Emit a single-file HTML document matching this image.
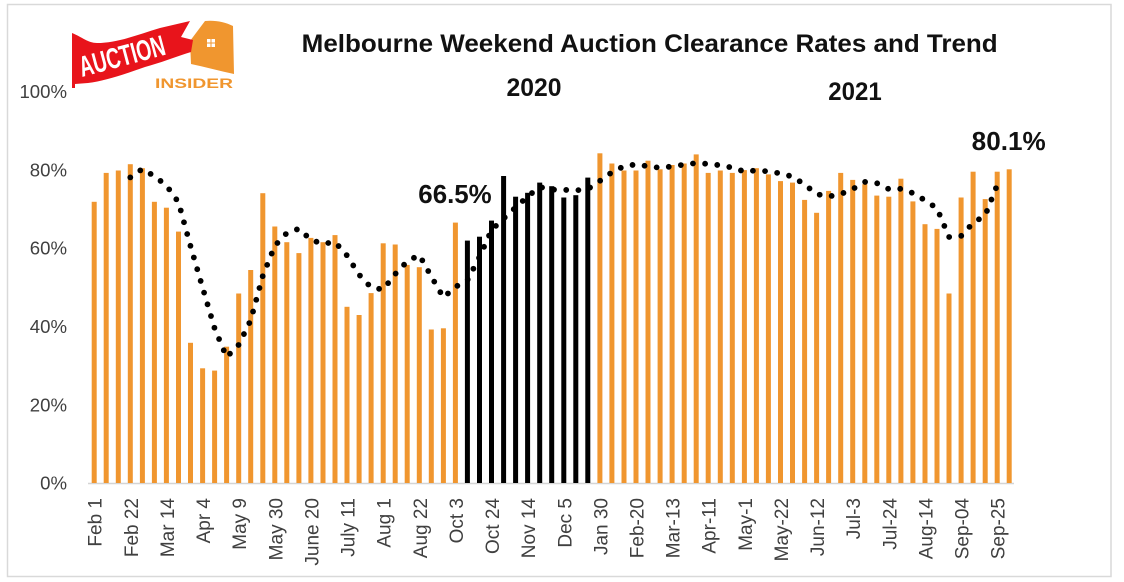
<!DOCTYPE html>
<html>
<head>
<meta charset="utf-8">
<style>
  html, body { margin: 0; padding: 0; background: #ffffff; }
  body { width: 1124px; height: 582px; overflow: hidden; }
  svg { display: block; }
  .yl { font-family: "Liberation Sans", Arial, sans-serif; font-size: 18.6px; fill: #404040; }
  .xl { font-family: "Liberation Sans", Arial, sans-serif; font-size: 19px; fill: #404040; }
  .b  { font-family: "Liberation Sans", Arial, sans-serif; font-weight: bold; fill: #111; }
</style>
</head>
<body>
<svg width="1124" height="582" viewBox="0 0 1124 582" xmlns="http://www.w3.org/2000/svg">
  <rect x="0" y="0" width="1124" height="582" fill="#ffffff"/>
  <!-- chart border -->
  <rect x="7.5" y="4.5" width="1103.5" height="572" fill="none" stroke="#d9d9d9" stroke-width="1.5"/>

  <!-- logo -->
  <path d="M190,41 L205,21 C215,20 225,22 233,26 L234,74 C220,71 205,67 191,64 Z" fill="#F0962F"/>
  <rect x="207" y="39" width="3.5" height="3.5" fill="#fff"/>
  <rect x="211.5" y="39" width="3.5" height="3.5" fill="#fff"/>
  <rect x="207" y="43.5" width="3.5" height="3.5" fill="#fff"/>
  <rect x="211.5" y="43.5" width="3.5" height="3.5" fill="#fff"/>
  <path d="M72,33 C82,37 88,43 97,43 C117,43 137,35 160,28 L190,21 L181,37 L193,40 L191,52 C175,57 160,63 145,67 C125,74 105,81 88,83 L75,84 L75,88 L72,88 Z" fill="#E8141B"/>
  <text x="82" y="77" transform="rotate(-15 82 77)" textLength="88" lengthAdjust="spacingAndGlyphs" style="font-family:'Liberation Sans',Arial,sans-serif;font-weight:bold;font-size:29px;fill:#ffffff;">AUCTION</text>
  <text x="155" y="88" textLength="78" lengthAdjust="spacingAndGlyphs" style="font-family:'Liberation Sans',Arial,sans-serif;font-weight:bold;font-size:13.5px;fill:#F0962F;">INSIDER</text>

  <!-- titles -->
  <text class="b" x="301.7" y="52" font-size="25" textLength="696" lengthAdjust="spacingAndGlyphs">Melbourne Weekend Auction Clearance Rates and Trend</text>
  <text class="b" x="506.5" y="96" font-size="25" textLength="55" lengthAdjust="spacingAndGlyphs">2020</text>
  <text class="b" x="828.3" y="100" font-size="25" textLength="53.4" lengthAdjust="spacingAndGlyphs">2021</text>
  <text class="b" x="418.3" y="203" font-size="26" textLength="73.4" lengthAdjust="spacingAndGlyphs">66.5%</text>
  <text class="b" x="971.7" y="150" font-size="26" textLength="74" lengthAdjust="spacingAndGlyphs">80.1%</text>

  <!-- y axis labels -->
  <g text-anchor="end">
    <text class="yl" x="67" y="98.1">100%</text>
    <text class="yl" x="67" y="176.4">80%</text>
    <text class="yl" x="67" y="254.7">60%</text>
    <text class="yl" x="67" y="333.1">40%</text>
    <text class="yl" x="67" y="411.4">20%</text>
    <text class="yl" x="67" y="489.7">0%</text>
  </g>

  <!-- axis line -->
  <line x1="88" y1="483.5" x2="1014" y2="483.5" stroke="#d4d4d4" stroke-width="1.5"/>

  <!-- bars -->
  <g fill="#F0962F">
    <rect x="91.7" y="201.8" width="5" height="281.2"/>
    <rect x="103.7" y="172.9" width="5" height="310.1"/>
    <rect x="115.8" y="170.5" width="5" height="312.5"/>
    <rect x="127.8" y="164.2" width="5" height="318.8"/>
    <rect x="139.9" y="168.2" width="5" height="314.8"/>
    <rect x="151.9" y="201.8" width="5" height="281.2"/>
    <rect x="163.9" y="207.7" width="5" height="275.3"/>
    <rect x="176.0" y="231.6" width="5" height="251.4"/>
    <rect x="188.0" y="342.8" width="5" height="140.2"/>
    <rect x="200.1" y="368.3" width="5" height="114.7"/>
    <rect x="212.1" y="370.6" width="5" height="112.4"/>
    <rect x="224.1" y="346.7" width="5" height="136.3"/>
    <rect x="236.2" y="293.5" width="5" height="189.5"/>
    <rect x="248.2" y="270.0" width="5" height="213.0"/>
    <rect x="260.3" y="193.2" width="5" height="289.8"/>
    <rect x="272.3" y="226.5" width="5" height="256.5"/>
    <rect x="284.3" y="242.2" width="5" height="240.8"/>
    <rect x="296.4" y="253.1" width="5" height="229.9"/>
    <rect x="308.4" y="237.9" width="5" height="245.1"/>
    <rect x="320.5" y="242.2" width="5" height="240.8"/>
    <rect x="332.5" y="235.1" width="5" height="247.9"/>
    <rect x="344.5" y="306.8" width="5" height="176.2"/>
    <rect x="356.6" y="315.0" width="5" height="168.0"/>
    <rect x="368.6" y="293.1" width="5" height="189.9"/>
    <rect x="380.7" y="243.3" width="5" height="239.7"/>
    <rect x="392.7" y="244.5" width="5" height="238.5"/>
    <rect x="404.7" y="264.9" width="5" height="218.1"/>
    <rect x="416.8" y="267.2" width="5" height="215.8"/>
    <rect x="428.8" y="329.5" width="5" height="153.5"/>
    <rect x="440.9" y="328.3" width="5" height="154.7"/>
    <rect x="452.9" y="222.6" width="5" height="260.4"/>
  </g>
  <g fill="#000000">
    <rect x="464.9" y="240.6" width="5" height="242.4"/>
    <rect x="477.0" y="236.7" width="5" height="246.3"/>
    <rect x="489.0" y="220.6" width="5" height="262.4"/>
    <rect x="501.1" y="176.0" width="5" height="307.0"/>
    <rect x="513.1" y="196.7" width="5" height="286.3"/>
    <rect x="525.1" y="192.8" width="5" height="290.2"/>
    <rect x="537.2" y="182.6" width="5" height="300.4"/>
    <rect x="549.2" y="186.2" width="5" height="296.8"/>
    <rect x="561.3" y="197.5" width="5" height="285.5"/>
    <rect x="573.3" y="195.2" width="5" height="287.8"/>
    <rect x="585.3" y="177.6" width="5" height="305.4"/>
  </g>
  <g fill="#F0962F">
    <rect x="597.4" y="153.3" width="5" height="329.7"/>
    <rect x="609.4" y="163.5" width="5" height="319.5"/>
    <rect x="621.5" y="170.5" width="5" height="312.5"/>
    <rect x="633.5" y="170.5" width="5" height="312.5"/>
    <rect x="645.5" y="160.7" width="5" height="322.3"/>
    <rect x="657.6" y="169.3" width="5" height="313.7"/>
    <rect x="669.6" y="165.0" width="5" height="318.0"/>
    <rect x="681.7" y="163.5" width="5" height="319.5"/>
    <rect x="693.7" y="154.4" width="5" height="328.6"/>
    <rect x="705.7" y="172.9" width="5" height="310.1"/>
    <rect x="717.8" y="170.5" width="5" height="312.5"/>
    <rect x="729.8" y="172.9" width="5" height="310.1"/>
    <rect x="741.9" y="170.1" width="5" height="312.9"/>
    <rect x="753.9" y="168.2" width="5" height="314.8"/>
    <rect x="765.9" y="174.4" width="5" height="308.6"/>
    <rect x="778.0" y="181.1" width="5" height="301.9"/>
    <rect x="790.0" y="182.6" width="5" height="300.4"/>
    <rect x="802.1" y="199.9" width="5" height="283.1"/>
    <rect x="814.1" y="212.8" width="5" height="270.2"/>
    <rect x="826.1" y="190.9" width="5" height="292.1"/>
    <rect x="838.2" y="172.9" width="5" height="310.1"/>
    <rect x="850.2" y="179.9" width="5" height="303.1"/>
    <rect x="862.3" y="184.2" width="5" height="298.8"/>
    <rect x="874.3" y="195.6" width="5" height="287.4"/>
    <rect x="886.3" y="196.7" width="5" height="286.3"/>
    <rect x="898.4" y="178.7" width="5" height="304.3"/>
    <rect x="910.4" y="201.4" width="5" height="281.6"/>
    <rect x="922.5" y="224.2" width="5" height="258.8"/>
    <rect x="934.5" y="228.9" width="5" height="254.1"/>
    <rect x="946.5" y="293.5" width="5" height="189.5"/>
    <rect x="958.6" y="197.5" width="5" height="285.5"/>
    <rect x="970.6" y="171.7" width="5" height="311.3"/>
    <rect x="982.7" y="199.1" width="5" height="283.9"/>
    <rect x="994.7" y="171.7" width="5" height="311.3"/>
    <rect x="1006.7" y="169.3" width="5" height="313.7"/>
  </g>

  <!-- trend (4-period moving average), round dots -->
  <polyline fill="none" stroke="#000" stroke-width="5.8" stroke-linecap="round" stroke-linejoin="round" stroke-dasharray="0 12.2"
    points="130.3,177.4 142.4,168.9 154.4,176.2 166.4,185.5 178.5,202.3 190.5,246.0 202.6,287.6 214.6,328.3 226.6,357.1 238.7,344.8 250.7,320.2 262.8,275.8 274.8,245.8 286.8,233.0 298.9,228.7 310.9,239.9 323.0,243.8 335.0,242.0 347.0,255.5 359.1,274.7 371.1,287.5 383.2,289.5 395.2,274.0 407.2,261.4 419.3,255.0 431.3,276.5 443.4,297.5 455.4,286.9 467.4,280.2 479.5,257.0 491.5,230.1 503.6,218.5 515.6,207.5 527.6,196.5 539.7,187.0 551.7,189.6 563.8,189.8 575.8,190.4 587.8,189.1 599.9,180.9 611.9,172.3 624.0,166.2 636.0,164.4 648.0,166.3 660.1,167.8 672.1,166.4 684.2,164.6 696.2,163.1 708.2,163.9 720.3,165.3 732.3,167.6 744.4,171.6 756.4,170.4 768.4,171.4 780.5,173.4 792.5,176.6 804.6,184.5 816.6,194.1 828.6,196.5 840.7,194.1 852.7,189.1 864.8,181.9 876.8,183.1 888.8,189.1 900.9,188.8 912.9,193.1 925.0,200.3 937.0,208.3 949.0,237.0 961.1,236.0 973.1,222.9 985.2,215.4 997.2,185.0"/>

  <!-- x axis labels (rotated) -->
  <g text-anchor="end">
    <text class="xl" transform="translate(101.7 498) rotate(-90)">Feb 1</text>
    <text class="xl" transform="translate(137.8 498) rotate(-90)">Feb 22</text>
    <text class="xl" transform="translate(173.9 498) rotate(-90)">Mar 14</text>
    <text class="xl" transform="translate(210.1 498) rotate(-90)">Apr 4</text>
    <text class="xl" transform="translate(246.2 498) rotate(-90)">May 9</text>
    <text class="xl" transform="translate(282.3 498) rotate(-90)">May 30</text>
    <text class="xl" transform="translate(318.4 498) rotate(-90)">June 20</text>
    <text class="xl" transform="translate(354.5 498) rotate(-90)">July 11</text>
    <text class="xl" transform="translate(390.7 498) rotate(-90)">Aug 1</text>
    <text class="xl" transform="translate(426.8 498) rotate(-90)">Aug 22</text>
    <text class="xl" transform="translate(462.9 498) rotate(-90)">Oct 3</text>
    <text class="xl" transform="translate(499.0 498) rotate(-90)">Oct 24</text>
    <text class="xl" transform="translate(535.1 498) rotate(-90)">Nov 14</text>
    <text class="xl" transform="translate(571.3 498) rotate(-90)">Dec 5</text>
    <text class="xl" transform="translate(607.4 498) rotate(-90)">Jan 30</text>
    <text class="xl" transform="translate(643.5 498) rotate(-90)">Feb-20</text>
    <text class="xl" transform="translate(679.6 498) rotate(-90)">Mar-13</text>
    <text class="xl" transform="translate(715.7 498) rotate(-90)">Apr-11</text>
    <text class="xl" transform="translate(751.9 498) rotate(-90)">May-1</text>
    <text class="xl" transform="translate(788.0 498) rotate(-90)">May-22</text>
    <text class="xl" transform="translate(824.1 498) rotate(-90)">Jun-12</text>
    <text class="xl" transform="translate(860.2 498) rotate(-90)">Jul-3</text>
    <text class="xl" transform="translate(896.3 498) rotate(-90)">Jul-24</text>
    <text class="xl" transform="translate(932.5 498) rotate(-90)">Aug-14</text>
    <text class="xl" transform="translate(968.6 498) rotate(-90)">Sep-04</text>
    <text class="xl" transform="translate(1004.7 498) rotate(-90)">Sep-25</text>
  </g>
</svg>
</body>
</html>
